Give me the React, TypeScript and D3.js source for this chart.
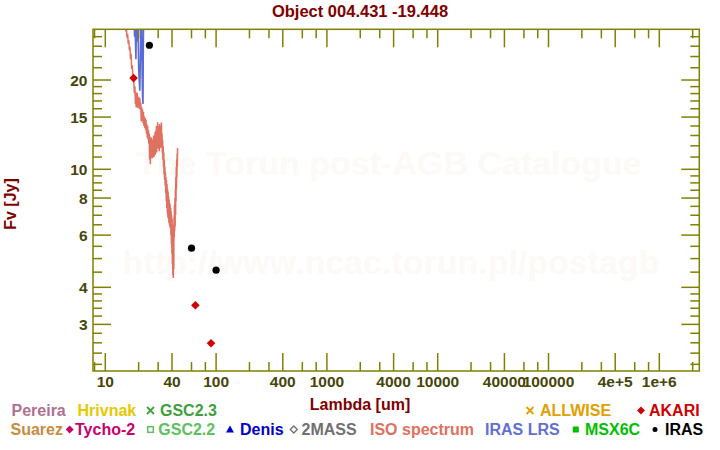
import React from "react";
import * as d3 from "d3";

// ---------- data ----------
const isoLambda = [14.8, 15.1, 15.3, 15.5, 15.7, 15.9, 16.1, 16.3, 16.5, 16.7, 16.9, 17.1, 17.3, 17.5, 17.7, 17.9, 18.1, 18.3, 18.5, 18.7, 18.85, 19.0, 19.15, 19.3, 19.45, 19.6, 19.75, 19.9, 20.1, 20.3, 20.5, 20.7, 20.9, 21.1, 21.3, 21.5, 21.7, 21.9, 22.1, 22.3, 22.5, 22.7, 22.9, 23.1, 23.3, 23.5, 23.7, 23.9, 24.1, 24.3, 24.5, 24.7, 24.9, 25.1, 25.3, 25.5, 25.7, 25.9, 26.1, 26.3, 26.5, 26.7, 26.9, 27.1, 27.3, 27.5, 27.7, 27.9, 28.1, 28.3, 28.5, 28.7, 28.9, 29.1, 29.3, 29.5, 29.7, 29.9, 30.1, 30.3, 30.5, 30.7, 30.9, 31.1, 31.3, 31.5, 31.7, 31.9, 32.1, 32.3, 32.5, 32.7, 32.9, 33.1, 33.3, 33.5, 33.7, 33.9, 34.1, 34.3, 34.5, 34.7, 34.9, 35.1, 35.3, 35.5, 35.7, 35.9, 36.1, 36.3, 36.5, 36.7, 36.9, 37.1, 37.3, 37.5, 37.7, 37.9, 38.1, 38.3, 38.5, 38.7, 38.9, 39.1, 39.3, 39.5, 39.7, 39.9, 40.1, 40.3, 40.5, 40.7, 40.9, 41.1, 41.3, 41.5, 41.7, 41.9, 42.1, 42.3, 42.5, 42.7, 42.9, 43.1, 43.3, 43.5, 43.7, 43.9, 44.1, 44.3, 44.5, 44.7, 44.9];
const isoFlux = [33, 30.5, 29.2, 30.0, 27.8, 28.6, 26.5, 27.2, 25.2, 25.9, 23.5, 24.5, 21.8, 22.4, 20.9, 20.3, 19.5, 18.1, 19.0, 16.6, 18.2, 16.2, 17.9, 16.4, 18.1, 16.1, 17.6, 16.3, 17.5, 16.0, 17.4, 15.9, 16.8, 14.5, 16.2, 14.6, 15.9, 14.3, 15.6, 14.0, 15.1, 13.8, 14.9, 13.6, 14.7, 13.2, 14.2, 12.8, 14.0, 12.6, 13.6, 12.2, 13.2, 10.8, 12.9, 10.4, 12.4, 10.9, 12.8, 11.1, 12.6, 10.9, 12.3, 11.3, 13.0, 11.0, 12.7, 11.4, 13.3, 11.2, 13.5, 11.6, 14.0, 11.4, 13.7, 11.8, 14.4, 12.0, 14.0, 11.7, 13.8, 11.5, 14.2, 12.1, 13.6, 11.8, 14.0, 12.3, 14.4, 11.9, 13.2, 11.4, 12.6, 10.8, 12.0, 10.2, 11.4, 9.6, 10.8, 9.2, 10.2, 8.8, 9.8, 8.3, 9.4, 7.8, 9.2, 7.4, 8.9, 7.1, 8.6, 6.9, 8.4, 6.8, 8.1, 6.6, 7.9, 6.5, 7.7, 6.4, 7.6, 6.3, 7.4, 6.0, 7.2, 5.6, 7.0, 5.2, 6.8, 4.8, 6.5, 4.4, 6.2, 4.3, 5.8, 4.6, 6.9, 5.9, 7.6, 6.2, 8.0, 6.4, 8.6, 7.0, 9.4, 7.8, 10.2, 8.6, 10.8, 9.4, 11.3, 10.2, 11.8];

const lrsLambda = [18.0, 18.4, 18.6, 18.9, 19.1, 19.4, 19.7, 20.0, 20.3, 20.5, 20.8, 21.0, 21.3, 21.5, 21.7, 21.9, 22.0, 22.2];
const lrsFlux = [35, 28, 30, 23.5, 31, 27, 33, 22, 19.5, 18.4, 26, 34, 30, 21, 17.5, 16.6, 24, 35];

const irasLambda = [25, 60, 100];
const irasFlux = [26.2, 5.42, 4.57];

const akariLambda = [18, 65, 90];
const akariFlux = [20.3, 3.48, 2.59];

const xMajorTicks = [10, 40, 100, 400, 1000, 4000, 10000, 40000, 100000, 400000, 1000000];
const xMajorLabels = ["10", "40", "100", "400", "1000", "4000", "10000", "40000", "100000", "4e+5", "1e+6"];
const xMinorTicks = [8, 20, 30, 60, 80, 200, 300, 600, 800, 2000, 3000, 6000, 8000, 20000, 30000, 60000, 80000, 200000, 300000, 600000, 800000, 2000000];

const yMajorTicks = [3, 4, 6, 8, 10, 15, 20];
const yMajorLabels = ["3", "4", "6", "8", "10", "15", "20"];
const yMinorTicks = [2.2, 2.4, 2.6, 2.8, 3.2, 3.4, 3.6, 3.8, 4.5, 5, 5.5, 6.5, 7, 7.5, 8.5, 9, 9.5, 11, 12, 13, 14, 16, 17, 18, 19, 22, 24, 26, 28];

const legendRow1 = [
  { label: "Pereira", color: "#b07090", sym: "", tx: 11.5, sx: 0 },
  { label: "Hrivnak", color: "#e6c800", sym: "", tx: 77.5, sx: 0 },
  { label: "GSC2.3", color: "#40a040", sym: "cross", tx: 160, sx: 150.5 },
  { label: "ALLWISE", color: "#e0a000", sym: "cross", tx: 540, sx: 530 },
  { label: "AKARI", color: "#d00000", sym: "diamond", tx: 649, sx: 641 },
];
const legendRow2 = [
  { label: "Suarez", color: "#c88c40", sym: "", tx: 10.5, sx: 0 },
  { label: "Tycho-2", color: "#c8006e", sym: "diamond", tx: 75, sx: 69.7 },
  { label: "GSC2.2", color: "#60c060", sym: "square-open", tx: 158.3, sx: 150.5 },
  { label: "Denis", color: "#0000c8", sym: "triangle", tx: 240, sx: 230 },
  { label: "2MASS", color: "#707070", sym: "diamond-open", tx: 301.5, sx: 293.8 },
  { label: "ISO spectrum", color: "#e07060", sym: "", tx: 370, sx: 0 },
  { label: "IRAS LRS", color: "#6070d0", sym: "", tx: 485, sx: 0 },
  { label: "MSX6C", color: "#00c000", sym: "square", tx: 585, sx: 575.8 },
  { label: "IRAS", color: "#000000", sym: "circle", tx: 665, sx: 655 },
];

// ---------- layout ----------
const W = 720;
const H = 450;
const L = 93, R = 699.3, T = 29.3, B = 371;
const AXIS = "#808000";
const TICKTXT = "#45450a";
const FONT = "'Liberation Sans', Arial, sans-serif";

function Sym({ type, x, y, color }: { type: string; x: number; y: number; color: string }) {
  if (type === "cross") {
    return (
      <g stroke={color} strokeWidth={1.8}>
        <line x1={x - 3.5} y1={y - 3.5} x2={x + 3.5} y2={y + 3.5} />
        <line x1={x - 3.5} y1={y + 3.5} x2={x + 3.5} y2={y - 3.5} />
      </g>
    );
  }
  if (type === "diamond") {
    return <path d={`M${x},${y - 4}L${x + 4},${y}L${x},${y + 4}L${x - 4},${y}Z`} fill={color} />;
  }
  if (type === "diamond-open") {
    return <path d={`M${x},${y - 3.5}L${x + 3.5},${y}L${x},${y + 3.5}L${x - 3.5},${y}Z`} fill="none" stroke={color} strokeWidth={1.3} />;
  }
  if (type === "square-open") {
    return <rect x={x - 2.8} y={y - 2.8} width={5.6} height={5.6} fill="none" stroke={color} strokeWidth={1.5} />;
  }
  if (type === "square") {
    return <rect x={x - 3} y={y - 3} width={6} height={6} fill={color} />;
  }
  if (type === "triangle") {
    return <path d={`M${x},${y - 4}L${x + 4},${y + 3}L${x - 4},${y + 3}Z`} fill={color} />;
  }
  if (type === "circle") {
    return <circle cx={x} cy={y} r={2.5} fill={color} />;
  }
  return null;
}

export default function App() {
  const x = d3.scaleLog().domain([7.745, 2.296e6]).range([L, R]);
  const y = d3.scaleLog().domain([2.089, 29.65]).range([B, T]);

  const iso = isoLambda.map((l, i) => [l, isoFlux[i]] as [number, number]);
  const lrs = lrsLambda.map((l, i) => [l, lrsFlux[i]] as [number, number]);
  const line = d3
    .line<[number, number]>()
    .x((d) => x(d[0]))
    .y((d) => y(d[1]));

  const majLen = 18;
  const minLen = 9;

  return (
    <svg width={W} height={H} style={{ position: "absolute", left: 0, top: 0, background: "#fff" }} fontFamily={FONT}>
      <defs>
        <clipPath id="plotclip">
          <rect x={L} y={T} width={R - L} height={B - T} />
        </clipPath>
      </defs>
      <rect x={0} y={0} width={W} height={H} fill="#fff" />

      {/* watermark */}
      <text x={389} y={175} textAnchor="middle" fontSize={34} fontWeight="bold" fill="#fcf9f6">
        The Torun post-AGB Catalogue
      </text>
      <text x={391} y={274} textAnchor="middle" fontSize={34} fontWeight="bold" fill="#fcf9f6">
        http://www.ncac.torun.pl/postagb
      </text>

      {/* title */}
      <text x={360} y={17} textAnchor="middle" fontSize={16.5} fontWeight="bold" fill="#800000">
        Object 004.431 -19.448
      </text>

      {/* spectra */}
      <g clipPath="url(#plotclip)">
        <path d={line(iso) || ""} fill="none" stroke="#e07060" strokeWidth={1.5} />
        <path d={line(lrs) || ""} fill="none" stroke="#5b6bd6" strokeWidth={1.6} />
      </g>

      {/* photometry */}
      {irasLambda.map((l, i) => (
        <circle key={"ir" + i} cx={x(l)} cy={y(irasFlux[i])} r={3.6} fill="#000" />
      ))}
      {akariLambda.map((l, i) => {
        const cx = x(l);
        const cy = y(akariFlux[i]);
        return <path key={"ak" + i} d={`M${cx},${cy - 4.3}L${cx + 4.3},${cy}L${cx},${cy + 4.3}L${cx - 4.3},${cy}Z`} fill="#d00000" />;
      })}

      {/* axes frame */}
      <g stroke={AXIS} strokeWidth={1.5} fill="none">
        <rect x={L} y={T} width={R - L} height={B - T} />
        {xMajorTicks.map((t) => (
          <g key={"xM" + t}>
            <line x1={x(t)} x2={x(t)} y1={B} y2={B - majLen} />
            <line x1={x(t)} x2={x(t)} y1={T} y2={T + majLen} />
          </g>
        ))}
        {xMinorTicks.map((t) => (
          <g key={"xm" + t}>
            <line x1={x(t)} x2={x(t)} y1={B} y2={B - minLen} />
            <line x1={x(t)} x2={x(t)} y1={T} y2={T + minLen} />
          </g>
        ))}
        {yMajorTicks.map((t) => (
          <g key={"yM" + t}>
            <line x1={L} x2={L + majLen} y1={y(t)} y2={y(t)} />
            <line x1={R} x2={R - majLen} y1={y(t)} y2={y(t)} />
          </g>
        ))}
        {yMinorTicks.map((t) => (
          <g key={"ym" + t}>
            <line x1={L} x2={L + minLen} y1={y(t)} y2={y(t)} />
            <line x1={R} x2={R - minLen} y1={y(t)} y2={y(t)} />
          </g>
        ))}
      </g>

      {/* tick labels */}
      <g fontSize={15.5} fontWeight="bold" fill={TICKTXT}>
        {xMajorTicks.map((t, i) => (
          <text key={"xl" + t} x={x(t)} y={386.5} textAnchor="middle">
            {xMajorLabels[i]}
          </text>
        ))}
        {yMajorTicks.map((t, i) => (
          <text key={"yl" + t} x={87.5} y={y(t)} dy="0.36em" textAnchor="end">
            {yMajorLabels[i]}
          </text>
        ))}
      </g>

      {/* axis titles */}
      <text x={360} y={410} textAnchor="middle" fontSize={16} fontWeight="bold" fill="#800000">
        Lambda [um]
      </text>
      <text transform="translate(16,204) rotate(-90)" textAnchor="middle" fontSize={16} fontWeight="bold" fill="#800000">
        Fv [Jy]
      </text>

      {/* legend */}
      <g fontSize={16} fontWeight="bold">
        {legendRow1.map((d) => (
          <g key={"l1" + d.label}>
            {d.sym && <Sym type={d.sym} x={d.sx} y={410.5} color={d.color} />}
            <text x={d.tx} y={416} fill={d.color}>
              {d.label}
            </text>
          </g>
        ))}
        {legendRow2.map((d) => (
          <g key={"l2" + d.label}>
            {d.sym && <Sym type={d.sym} x={d.sx} y={429.5} color={d.color} />}
            <text x={d.tx} y={435} fill={d.color}>
              {d.label}
            </text>
          </g>
        ))}
      </g>
    </svg>
  );
}
